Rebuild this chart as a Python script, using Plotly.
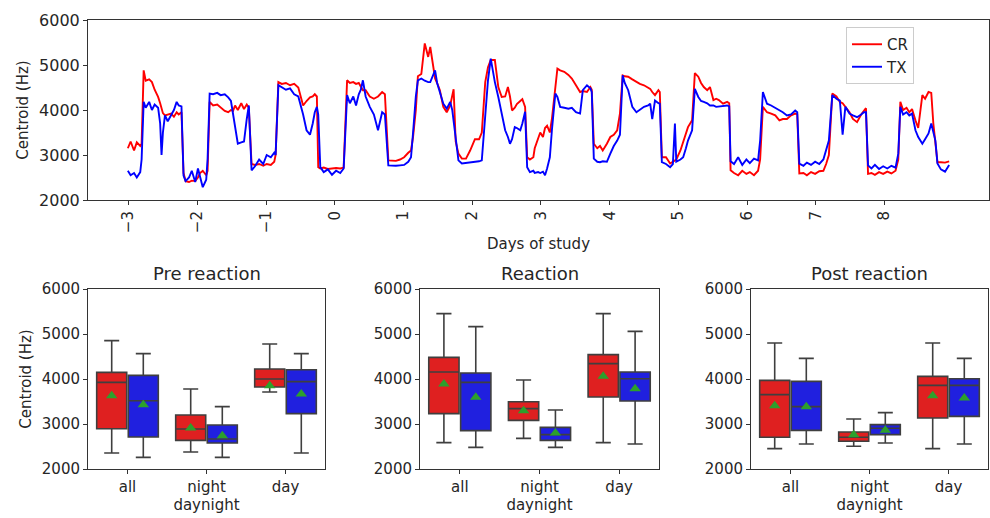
import plotly.graph_objects as go

# ---------------- data: time series (days of study) ----------------
days = [-3.01, -2.97, -2.92, -2.88, -2.83, -2.81, -2.78, -2.75, -2.70, -2.66, -2.62, -2.57, -2.54, -2.52,
        -2.50, -2.47, -2.43, -2.38, -2.34, -2.30, -2.27, -2.23, -2.20, -2.17, -2.12, -2.08, -2.03, -1.99,
        -1.96, -1.92, -1.87, -1.85, -1.82, -1.77, -1.71, -1.66, -1.60, -1.55, -1.51, -1.48, -1.45, -1.41,
        -1.36, -1.32, -1.28, -1.25, -1.21, -1.16, -1.10, -1.04, -0.99, -0.93, -0.88, -0.86, -0.82, -0.77,
        -0.71, -0.65, -0.59, -0.53, -0.49, -0.46, -0.41, -0.36, -0.32, -0.29, -0.26, -0.24, -0.21, -0.16,
        -0.10, -0.04, 0.02, 0.08, 0.13, 0.18, 0.22, 0.27, 0.31, 0.35, 0.38, 0.41, 0.45, 0.51, 0.57, 0.63,
        0.69, 0.73, 0.78, 0.83, 0.89, 0.95, 1.01, 1.07, 1.11, 1.14, 1.18, 1.21, 1.26, 1.31, 1.36, 1.39,
        1.43, 1.46, 1.49, 1.53, 1.58, 1.63, 1.68, 1.71, 1.73, 1.76, 1.80, 1.85, 1.91, 1.97, 2.04, 2.10,
        2.14, 2.19, 2.23, 2.27, 2.33, 2.38, 2.43, 2.48, 2.52, 2.55, 2.58, 2.62, 2.65, 2.70, 2.73, 2.77,
        2.80, 2.84, 2.89, 2.91, 2.96, 2.99, 3.03, 3.06, 3.09, 3.13, 3.16, 3.21, 3.24, 3.28, 3.34, 3.40,
        3.45, 3.51, 3.57, 3.61, 3.67, 3.72, 3.74, 3.77, 3.82, 3.86, 3.90, 3.96, 4.01, 4.06, 4.11, 4.15,
        4.19, 4.22, 4.27, 4.33, 4.39, 4.44, 4.50, 4.56, 4.59, 4.62, 4.66, 4.71, 4.73, 4.76, 4.82, 4.88,
        4.92, 4.95, 4.97, 5.03, 5.07, 5.11, 5.14, 5.20, 5.24, 5.29, 5.33, 5.37, 5.42, 5.46, 5.51, 5.55,
        5.59, 5.65, 5.71, 5.74, 5.76, 5.81, 5.87, 5.93, 5.99, 6.04, 6.10, 6.16, 6.19, 6.23, 6.29, 6.35,
        6.41, 6.47, 6.52, 6.58, 6.64, 6.70, 6.73, 6.76, 6.82, 6.87, 6.93, 6.99, 7.05, 7.11, 7.15, 7.19,
        7.24, 7.30, 7.35, 7.39, 7.43, 7.49, 7.54, 7.60, 7.66, 7.70, 7.73, 7.76, 7.81, 7.86, 7.92, 7.98,
        8.04, 8.10, 8.16, 8.20, 8.23, 8.27, 8.32, 8.36, 8.40, 8.45, 8.49, 8.55, 8.59, 8.64, 8.68, 8.71,
        8.74, 8.77, 8.82, 8.88, 8.94]

cr = [3150, 3300, 3100, 3280, 3200, 3250, 4880, 4650, 4680, 4620, 4450, 4290, 4150, 4050,
      3930, 3880, 3900, 3920, 3850, 3950, 3900, 3950, 2600, 2420, 2400, 2430, 2420, 2500,
      2600, 2650, 2550, 2650, 4180, 4100, 4120, 4050, 3980, 3950, 4000, 3980, 4100, 4000,
      4150, 4020, 4120, 4050, 2800, 2780, 2800, 2760, 2800, 2780, 2850, 3000, 4620, 4580,
      4600, 4550, 4580, 4500, 4300, 4100, 4200, 4280, 4300, 4350, 4300, 2730, 2700, 2720,
      2690, 2700, 2710, 2700, 2720, 4660, 4600, 4620, 4580, 4600, 4500, 4440, 4440, 4300, 4250, 4300,
      4400, 4350, 2880, 2880, 2870, 2900, 2950, 3050, 3100, 3400, 4000, 4750, 4800, 5480, 5180, 5400,
      4960, 4700, 4600, 4440, 4070, 3950, 4100, 4290, 4460, 3300, 3030, 2920, 2920, 3100, 3350, 3350,
      3500, 4620, 4950, 5110, 5110, 4510, 4290, 4300, 4510, 4300, 3990, 4050, 4130, 4200, 4240, 4070,
      2950, 2900, 2950, 3150, 3350, 3500, 3400, 3600, 3650, 3500, 3800, 4450, 4920, 4880, 4850, 4780,
      4700, 4550, 4400, 4420, 4400, 4510, 4450, 3250, 3150, 3200, 3100, 3250, 3400, 3450, 3550, 3920,
      4770, 4750, 4740, 4680, 4620, 4580, 4550, 4500, 4470, 4400, 4330, 4440, 4400, 2950, 2950, 2810,
      2850, 2880, 2900, 3100, 3300, 3500, 3620, 3770, 4820, 4740, 4600, 4510, 4440, 4510, 4220, 4250,
      4220, 4140, 4180, 4150, 2660, 2600, 2550, 2650, 2580, 2620, 2550, 2650, 2900, 4070, 3950, 3920,
      3880, 3770, 3800, 3800, 3880, 3920, 3900, 2590, 2600, 2550, 2620, 2580, 2640, 2650, 2800, 3000,
      4365, 4300, 4180, 4150, 4070, 3950, 3800, 3730, 3900, 3990, 4040, 2580, 2600, 2560, 2620, 2580,
      2630, 2590, 2650, 2900, 4180, 4000, 4050, 3950, 4020, 3770, 3600, 4330, 4250, 4400, 4380, 3700,
      3300, 2840, 2840, 2830, 2860]

tx = [2650, 2550, 2600, 2500, 2620, 2900, 4180, 4050, 4180, 4000, 4120, 4050, 3700, 3000,
      3500, 3880, 3750, 3900, 4000, 4180, 4100, 4080, 2545, 2420, 2500, 2650, 2400, 2700,
      2500, 2285, 2450, 2900, 4365, 4350, 4380, 4330, 4350, 4280, 4200, 3900, 3600, 3250,
      3280, 3300, 3800, 4100, 2660, 2750, 2900, 2800, 3000, 2950, 3050, 3000, 4550, 4500,
      4450, 4480, 4350, 4300, 4100, 3900, 3550, 3450, 3700, 3950, 4070, 3900, 2730, 2620,
      2680, 2560, 2650, 2600, 2700, 4330, 4150, 4300, 4100, 4350, 4450, 4660, 4300, 4070, 3900, 3550,
      3950, 3900, 2770, 2760, 2760, 2770, 2780, 2850, 2950, 3500, 4300, 4660, 4700, 4650, 4620, 4620,
      4750, 4880, 4600, 4400, 4140, 4030, 4180, 4000, 3770, 3300, 2880, 2810, 2820, 2830, 2840, 2860,
      2880, 3920, 4660, 5140, 4620, 4290, 3920, 3550, 3400, 3250, 3350, 3620, 3600, 3550, 3700, 3960,
      2730, 2620, 2650, 2600, 2620, 2600, 2630, 2550, 2700, 2950, 3550, 4365, 4290, 4070, 4050, 4030,
      4050, 3950, 3920, 4440, 4550, 4480, 4400, 2920, 2850, 2840, 2860, 2850, 3030, 3200, 3320, 3450,
      4770, 4600, 4440, 4070, 3950, 4000, 4070, 4100, 4140, 3800, 4210, 4150, 4140, 2840, 2800, 2730,
      2800, 3700, 2850, 2900, 2950, 3150, 3320, 3550, 4470, 4290, 4200, 4180, 4150, 4100, 4100, 4070,
      4080, 4100, 4100, 4080, 2860, 2800, 2950, 2780, 2900, 2820, 2920, 2880, 3320, 4400, 4140, 4100,
      4050, 3990, 3950, 3880, 3900, 3990, 3950, 2810, 2760, 2830, 2780, 2850, 2800, 2900, 3100, 3320,
      4330, 4250, 4210, 3450, 4070, 3920, 3880, 3840, 3900, 3950, 3950, 2770, 2700, 2780, 2690, 2750,
      2700, 2760, 2720, 3030, 4070, 3900, 3950, 3880, 3920, 3550, 3400, 3250, 3350, 3480, 3700, 3500,
      3320, 2810, 2680, 2630, 2780]

day_ticks = [-3, -2, -1, 0, 1, 2, 3, 4, 5, 6, 7, 8]
day_tick_labels = ["\u22123", "\u22122", "\u22121", "0", "1", "2", "3", "4", "5", "6", "7", "8"]

# ---------------- data: box-plot summaries ----------------
categories = ["all", "night", "day"]
panel_titles = ["Pre reaction", "Reaction", "Post reaction"]

# order: [all, night, day]
pre_cr_q1 = [2896, 2637, 3822]
pre_cr_med = [3926, 2889, 4000]
pre_cr_q3 = [4148, 3200, 4222]
pre_cr_lo = [2356, 2378, 3711]
pre_cr_hi = [4852, 3778, 4778]
pre_cr_mean = [3630, 2911, 3852]
pre_tx_q1 = [2711, 2578, 3230]
pre_tx_med = [3518, 2667, 3941]
pre_tx_q3 = [4081, 2978, 4207]
pre_tx_lo = [2259, 2259, 2356]
pre_tx_hi = [4563, 3385, 4563]
pre_tx_mean = [3430, 2741, 3667]

rea_cr_q1 = [3230, 3081, 3600]
rea_cr_med = [4156, 3341, 4341]
rea_cr_q3 = [4481, 3496, 4541]
rea_cr_lo = [2585, 2681, 2585]
rea_cr_hi = [5452, 3978, 5452]
rea_cr_mean = [3889, 3296, 4059]
rea_tx_q1 = [2852, 2637, 3511]
rea_tx_med = [3926, 2763, 4007]
rea_tx_q3 = [4133, 2926, 4156]
rea_tx_lo = [2481, 2481, 2556]
rea_tx_hi = [5163, 3311, 5059]
rea_tx_mean = [3593, 2800, 3785]

post_cr_q1 = [2704, 2615, 3133]
post_cr_med = [3652, 2704, 3859]
post_cr_q3 = [3970, 2822, 4059]
post_cr_lo = [2452, 2504, 2452]
post_cr_hi = [4800, 3111, 4800]
post_cr_mean = [3407, 2763, 3630]
post_tx_q1 = [2859, 2763, 3170]
post_tx_med = [3385, 2904, 3859]
post_tx_q3 = [3948, 2985, 4007]
post_tx_lo = [2556, 2578, 2556]
post_tx_hi = [4459, 3252, 4459]
post_tx_mean = [3385, 2859, 3578]

panels = [
    dict(cr=(pre_cr_q1, pre_cr_med, pre_cr_q3, pre_cr_lo, pre_cr_hi, pre_cr_mean),
         tx=(pre_tx_q1, pre_tx_med, pre_tx_q3, pre_tx_lo, pre_tx_hi, pre_tx_mean)),
    dict(cr=(rea_cr_q1, rea_cr_med, rea_cr_q3, rea_cr_lo, rea_cr_hi, rea_cr_mean),
         tx=(rea_tx_q1, rea_tx_med, rea_tx_q3, rea_tx_lo, rea_tx_hi, rea_tx_mean)),
    dict(cr=(post_cr_q1, post_cr_med, post_cr_q3, post_cr_lo, post_cr_hi, post_cr_mean),
         tx=(post_tx_q1, post_tx_med, post_tx_q3, post_tx_lo, post_tx_hi, post_tx_mean)),
]

# ---------------- styling ----------------
W, H = 990, 518
FONT = "DejaVu Sans"
TXT = "#262626"
SPINE = "#333333"
CR_LINE = "#ff0000"
TX_LINE = "#0000ff"
CR_FILL = "#df2020"
TX_FILL = "#2020df"
BOX_EDGE = "#3f3f3f"
MEAN_C = "#2ca02c"


def px_x(a, b):
    return [a / W, b / W]


def px_y(top, bottom):
    return [(H - bottom) / H, (H - top) / H]


fig = go.Figure()

# top time-series
fig.add_trace(go.Scatter(x=days, y=cr, mode="lines", name="CR",
                         line=dict(color=CR_LINE, width=1.9), xaxis="x", yaxis="y"))
fig.add_trace(go.Scatter(x=days, y=tx, mode="lines", name="TX",
                         line=dict(color=TX_LINE, width=1.9), xaxis="x", yaxis="y"))

# bottom box plots
offsets = {"cr": -0.2, "tx": 0.2}
fills = {"cr": CR_FILL, "tx": TX_FILL}
for i, p in enumerate(panels):
    xa = "x%d" % (i + 2)
    ya = "y%d" % (i + 2)
    for key in ("cr", "tx"):
        q1, med, q3, lo, hi, mean = p[key]
        pos = [k + offsets[key] for k in range(len(categories))]
        fig.add_trace(go.Box(x=pos, q1=q1, median=med, q3=q3, lowerfence=lo, upperfence=hi,
                             width=0.38, fillcolor=fills[key], line=dict(color=BOX_EDGE, width=1.6),
                             whiskerwidth=0.5, boxpoints=False, showlegend=False,
                             hoverinfo="skip", xaxis=xa, yaxis=ya))
        fig.add_trace(go.Scatter(x=pos, y=mean, mode="markers", showlegend=False,
                                 marker=dict(symbol="triangle-up", size=10, color=MEAN_C,
                                             line=dict(width=0)),
                                 xaxis=xa, yaxis=ya))


def axis_common(size):
    return dict(showline=True, linecolor=SPINE, linewidth=1, mirror=True, ticks="outside",
                ticklen=4, tickcolor=SPINE, showgrid=False, zeroline=False, automargin=False,
                tickfont=dict(family=FONT, size=size, color=TXT))


layout = dict(
    width=W, height=H, margin=dict(l=0, r=0, t=0, b=0, autoexpand=False),
    paper_bgcolor="white", plot_bgcolor="white",
    font=dict(family=FONT, size=14, color=TXT),
    xaxis=dict(domain=px_x(88, 989), range=[-3.59, 9.52], tickvals=day_ticks,
               ticktext=day_tick_labels, tickangle=-90, anchor="y",
               title=dict(text="Days of study", font=dict(size=15), standoff=6),
               **axis_common(15)),
    yaxis=dict(domain=px_y(20, 200), range=[2000, 6000], tickvals=[2000, 3000, 4000, 5000, 6000],
               anchor="x", title=dict(text="Centroid (Hz)", font=dict(size=15), standoff=6),
               **axis_common(16)),
    legend=dict(x=846 / W, y=(H - 27) / H, xanchor="left", yanchor="top",
                bordercolor="#cccccc", borderwidth=1, bgcolor="white",
                font=dict(family=FONT, size=15, color=TXT)),
    showlegend=True,
)

box_x = [(88, 325), (420, 659), (751, 988)]
for i, (a, b) in enumerate(box_x):
    n = i + 2
    layout["xaxis%d" % n] = dict(domain=px_x(a, b), range=[-0.5, 2.5], tickvals=[0, 1, 2],
                                 ticktext=categories, anchor="y%d" % n,
                                 title=dict(text="daynight", font=dict(size=15), standoff=2),
                                 **axis_common(15))
    ydict = dict(domain=px_y(289, 469), range=[2000, 6000],
                 tickvals=[2000, 3000, 4000, 5000, 6000], anchor="x%d" % n, **axis_common(15))
    if i == 0:
        ydict["title"] = dict(text="Centroid (Hz)", font=dict(size=15), standoff=6)
    layout["yaxis%d" % n] = ydict

fig.update_layout(**layout)

for i, (a, b) in enumerate(box_x):
    fig.add_annotation(text=panel_titles[i], x=(a + b) / 2 / W, y=(H - 273) / H,
                       xref="paper", yref="paper", xanchor="center", yanchor="middle",
                       showarrow=False, font=dict(family=FONT, size=18, color=TXT))

fig.write_html("out.html", config={"displayModeBar": False},
               post_script="document.body.style.margin='0';document.body.style.overflow='hidden';")
